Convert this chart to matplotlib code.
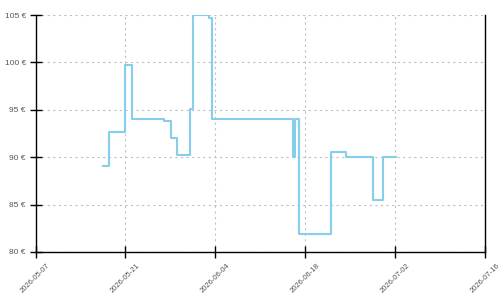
import matplotlib
matplotlib.use("Agg")
import matplotlib.pyplot as plt
import pandas as pd

dates = ["2026-05-17 13:00", "2026-05-18 10:00", "2026-05-21 00:00", "2026-05-22 01:00",
         "2026-05-27 02:00", "2026-05-28 02:00", "2026-05-29 02:00", "2026-05-31 00:00",
         "2026-05-31 11:00", "2026-06-03 02:00", "2026-06-03 11:00", "2026-06-16 02:00",
         "2026-06-16 10:00", "2026-06-17 02:00", "2026-06-22 02:00", "2026-06-24 10:00",
         "2026-06-28 12:00", "2026-06-30 02:00", "2026-07-02 05:00"]
prices = [89.1, 92.7, 99.7, 94.0, 93.8, 92.0, 90.2, 95.1, 105.0, 104.7, 94.0, 90.0,
          94.0, 81.9, 90.5, 90.0, 85.5, 90.0, 90.0]
x_ticks = ["2026-05-07", "2026-05-21", "2026-06-04", "2026-06-18", "2026-07-02", "2026-07-16"]
y_ticks = [80, 85, 90, 95, 100, 105]

plt.rcParams['font.family'] = ['Liberation Sans', 'DejaVu Sans']

fig = plt.figure(figsize=(5, 3), dpi=100)
ax = fig.add_axes([0.071, 0.16, 0.899, 0.79])

x = pd.to_datetime(dates)
ax.step(x, prices, where='post', color='#87CEEB', linewidth=1.5)

xt = pd.to_datetime(x_ticks)
ax.set_xlim(xt[0], xt[-1])
ax.set_ylim(80, 105)
ax.set_xticks(xt)
ax.set_xticklabels(x_ticks, rotation=45, ha='center', fontsize=5.5, color='#555555')
ax.set_yticks(y_ticks)
ax.set_yticklabels([f"{v} €" for v in y_ticks], fontsize=6, color='#555555')

ax.grid(True, color='#c0c0c0', linestyle=(0, (2, 3)), linewidth=0.8)
ax.set_axisbelow(True)
ax.spines['top'].set_visible(False)
for s in ['left', 'bottom', 'right']:
    ax.spines[s].set_color('black')
    ax.spines[s].set_linewidth(1)
ax.tick_params(axis='both', direction='inout', length=8, width=1, color='black', pad=3)

fig.savefig("out.png", dpi=100)
